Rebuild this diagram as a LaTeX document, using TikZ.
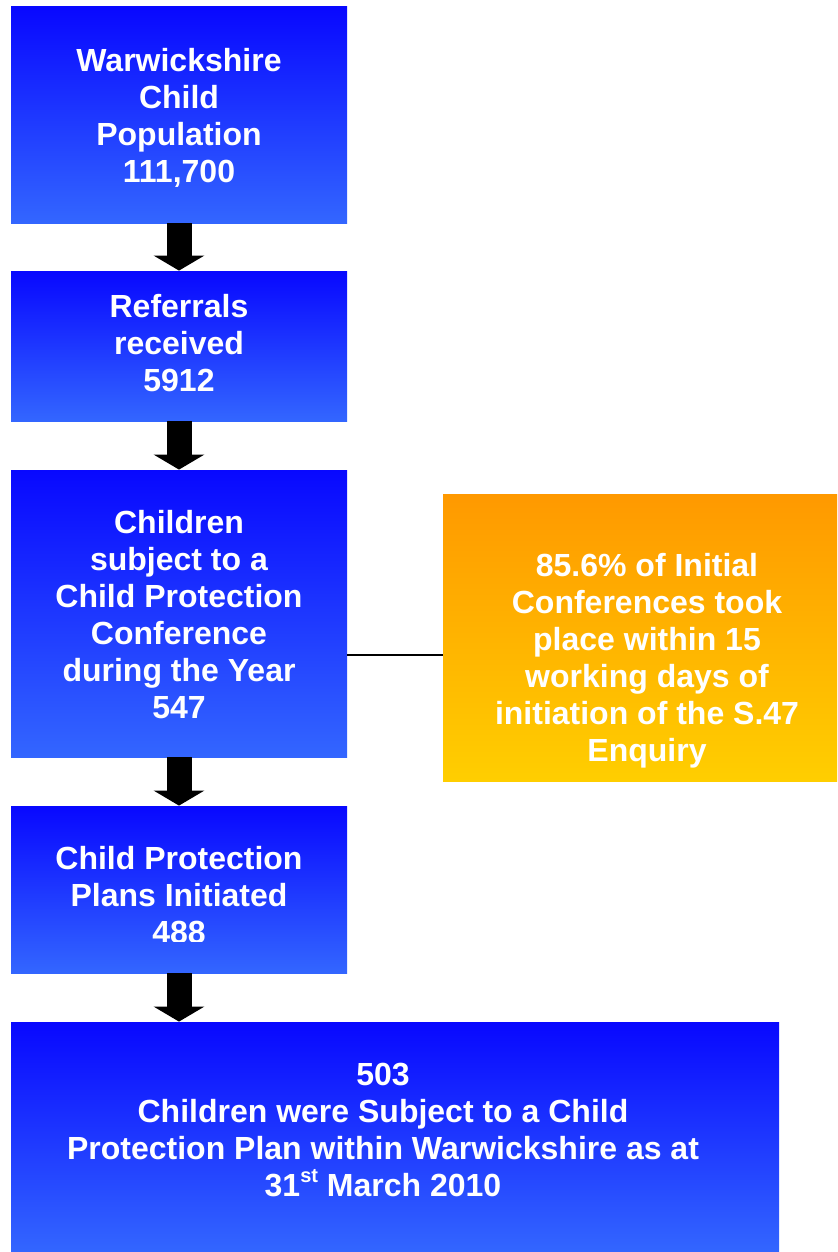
\documentclass[tikz,border=0pt]{standalone}
\usepackage{fontspec}
\setmainfont{Liberation Sans}
\usetikzlibrary{arrows.meta}
\definecolor{boxtop}{RGB}{8,8,255}
\definecolor{boxbot}{RGB}{51,102,255}
\definecolor{conftop}{RGB}{255,153,0}
\definecolor{confbot}{RGB}{255,206,0}

\begin{document}
\begin{tikzpicture}[x=0.5pt, y=-0.5pt]
    \tikzstyle{blue box} = [rectangle, inner sep=0, top color=boxtop, bottom color=boxbot]
    \tikzstyle{orange box} = [rectangle, inner sep=0, top color=conftop, bottom color=confbot]
    \tikzstyle{label text} = [white, font=\bfseries\fontsize{16}{18.5}\selectfont, align=center, inner sep=0]
    \tikzstyle{flow arrow} = [draw, line width=12.5pt, -{Triangle[width=25pt,length=7.5pt]}]

    \useasboundingbox (0,0) rectangle (837,1252);

      \node[blue box, minimum width=168pt, minimum height=108pt]   (b1)   at (179,115)    {};
      \node[blue box, minimum width=168pt, minimum height=75pt]    (b2)   at (179,346)    {};
      \node[blue box, minimum width=168pt, minimum height=143.5pt] (b3)   at (179,613.5)  {};
      \node[orange box, minimum width=197pt, minimum height=143.5pt] (conf) at (640,637.5) {};
      \node[blue box, minimum width=168pt, minimum height=83.5pt]  (b4)   at (179,889.5)  {};
      \node[blue box, minimum width=384pt, minimum height=115pt]   (b5)   at (395,1137)   {};

      \draw[flow arrow] (b1.south) -- (b2.north);
      \draw[flow arrow] (b2.south) -- (b3.north);
      \draw[flow arrow] (b3.south) -- (b4.north);
      \draw[flow arrow] (b4.south) -- (b4.south |- b5.north);

      \coordinate (lk) at (395,655);
      \draw[line width=0.7pt] (b3.east |- lk) -- (conf.west |- lk);

      \node[label text] (t1) at (179,117.5) {Warwickshire\\Child\\Population\\111,700};
      \node[label text] (t2) at (179,343) {Referrals\\received\\5912};
      \node[label text] (t3) at (179,614.5) {Children\\subject to a\\Child Protection\\Conference\\during the Year\\547};
      \node[label text] (tc) at (647,660.5) {85.6\% of Initial\\Conferences took\\place within 15\\working days of\\initiation of the S.47\\Enquiry};
      \begin{scope}
        \clip (11,806) rectangle (347,941);
        \node[label text] (t4) at (179,895) {Child Protection\\Plans Initiated\\488};
      \end{scope}
      \node[label text] (t5) at (383,1130) {503\\Children were Subject to a Child\\Protection Plan within Warwickshire as at\\31\raisebox{0.45em}{\fontsize{10}{10}\selectfont st} March 2010};
    \end{tikzpicture}
\end{document}
